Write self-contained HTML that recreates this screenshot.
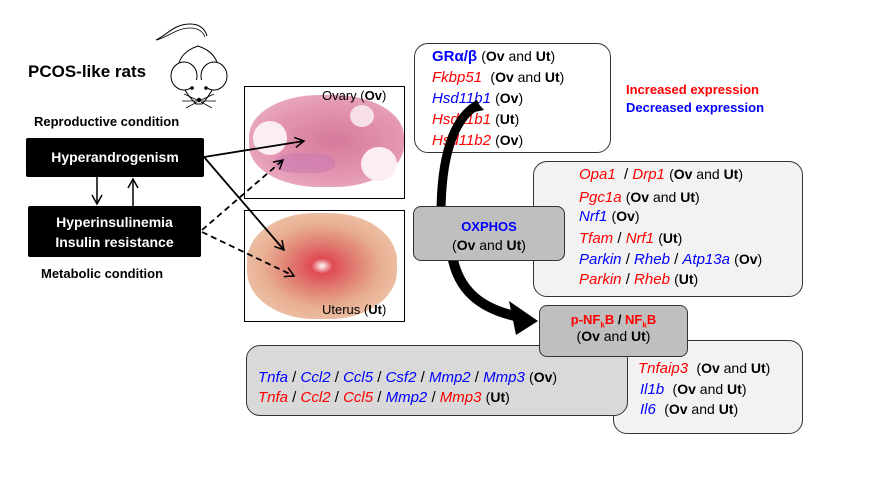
<!DOCTYPE html>
<html><head><meta charset="utf-8"><style>
body{margin:0;width:881px;height:499px;background:#fff;position:relative;overflow:hidden;font-family:"Liberation Sans",Arial,sans-serif}
.a{position:absolute;white-space:nowrap}
.r{color:#f00}.b{color:#00f}.k{color:#000}
i{font-style:italic}
.box{position:absolute;border:1.3px solid #333;border-radius:14px;box-sizing:border-box}
.p{font-size:14px}
.p b{font-weight:bold}
.ln{position:absolute;white-space:nowrap;font-size:15px}
.blk{position:absolute;background:#000;color:#fff;font-weight:bold;font-size:14px;text-align:center;border-radius:2px}
</style></head><body>

<div class="a" style="left:28px;top:62px;font-size:17px;font-weight:bold">PCOS-like rats</div>
<svg class="a" style="left:152px;top:18px" width="90" height="90" viewBox="0 0 90 90">
<path d="M4,22 C15,17 22,6 38,6 C48,6 53,11 55,18" fill="none" stroke="#000" stroke-width="1"/>
<path d="M4,22 C15,20 24,10 38,10 C47,10 51,14 53,19" fill="none" stroke="#000" stroke-width="0.8"/>
<path d="M44,86 C24,66 16,38 46,28 C76,38 68,66 50,86 Z" fill="#fff" stroke="#000" stroke-width="1"/>
<ellipse cx="32" cy="58" rx="13" ry="14" fill="#fff" stroke="#000"/>
<ellipse cx="62" cy="58" rx="13" ry="14" fill="#fff" stroke="#000"/>
<path d="M37,62 C38,74 42,82 47,84 C52,82 56,74 57,62" fill="#fff" stroke="none"/>
<circle cx="40" cy="70" r="1.8"/><circle cx="54" cy="70" r="1.8"/><circle cx="47" cy="82" r="2.2"/>
<path d="M45,82 L32,76 M45,83 L30,83 M45,84 L34,90 M49,82 L62,76 M49,83 L64,83 M49,84 L60,90" stroke="#000" stroke-width="0.8"/>
</svg>

<div class="a" style="left:34px;top:114px;font-size:13px;font-weight:bold">Reproductive condition</div>
<div class="blk" style="left:26px;top:138px;width:178px;height:39px;line-height:39px">Hyperandrogenism</div>
<div class="blk" style="left:28px;top:206px;width:173px;height:51px;line-height:20px;padding-top:6px;box-sizing:border-box">Hyperinsulinemia<br>Insulin resistance</div>
<div class="a" style="left:41px;top:266px;font-size:13px;font-weight:bold">Metabolic condition</div>

<!-- images -->
<div class="a" style="left:244px;top:86px;width:161px;height:113px;border:1px solid #000;box-sizing:border-box;background:#fff;overflow:hidden">
<div class="a" style="left:4px;top:8px;width:155px;height:92px;border-radius:45%;background:radial-gradient(ellipse at 55% 50%,#d67a9c 0%,#e496b2 55%,#eab0c4 85%,#f5dbe5 100%)"></div>
<div class="a" style="left:8px;top:34px;width:34px;height:34px;border-radius:50%;background:#fbeef2"></div>
<div class="a" style="left:116px;top:60px;width:36px;height:34px;border-radius:50%;background:#fbeef2"></div>
<div class="a" style="left:105px;top:18px;width:24px;height:22px;border-radius:50%;background:#f6dfe8"></div>
<div class="a" style="left:30px;top:66px;width:60px;height:20px;border-radius:40%;background:#c978b0;opacity:.55"></div>
</div>
<div class="a" style="left:322px;top:88px;font-size:13px">Ovary (<b>Ov</b>)</div>
<div class="a" style="left:244px;top:210px;width:161px;height:112px;border:1px solid #000;box-sizing:border-box;background:#fff;overflow:hidden">
<div class="a" style="left:2px;top:2px;width:150px;height:106px;border-radius:45%;background:radial-gradient(ellipse at 50% 50%,#fff 0%,#e04a52 10%,#e0776e 28%,#e8ae92 55%,#efc8ad 85%,#f6e1d3 100%)"></div>
</div>
<div class="a" style="left:322px;top:302px;font-size:13px">Uterus (<b>Ut</b>)</div>

<svg class="a" style="left:0;top:0" width="881" height="499">
<defs><marker id="ah" markerWidth="12" markerHeight="12" refX="10" refY="6" orient="auto" markerUnits="userSpaceOnUse"><path d="M1,1 L10,6 L1,11" fill="none" stroke="#000" stroke-width="1.5"/></marker></defs>
<line x1="97" y1="177" x2="97" y2="204" stroke="#000" stroke-width="1.5" marker-end="url(#ah)"/>
<line x1="133" y1="206" x2="133" y2="179" stroke="#000" stroke-width="1.5" marker-end="url(#ah)"/>
<line x1="204" y1="157" x2="304" y2="141" stroke="#000" stroke-width="1.8" marker-end="url(#ah)"/>
<line x1="204" y1="157" x2="284" y2="250" stroke="#000" stroke-width="1.8" marker-end="url(#ah)"/>
<line x1="202" y1="230" x2="283" y2="160" stroke="#000" stroke-width="1.8" stroke-dasharray="6,4" marker-end="url(#ah)"/>
<line x1="202" y1="232" x2="294" y2="276" stroke="#000" stroke-width="1.8" stroke-dasharray="6,4" marker-end="url(#ah)"/>
</svg>

<!-- top box -->
<div class="box" style="left:414px;top:43px;width:197px;height:110px;background:#fff"></div>
<div class="ln" style="left:432px;top:48px"><b class="b">GRα/β</b> <span class="p">(<b>Ov</b> and <b>Ut</b>)</span></div>
<div class="ln" style="left:432px;top:69px"><i class="r">Fkbp51</i> &nbsp;<span class="p">(<b>Ov</b> and <b>Ut</b>)</span></div>
<div class="ln" style="left:432px;top:90px"><i class="b">Hsd11b1</i> <span class="p">(<b>Ov</b>)</span></div>
<div class="ln" style="left:432px;top:111px"><i class="r">Hsd11b1</i> <span class="p">(<b>Ut</b>)</span></div>
<div class="ln" style="left:432px;top:132px"><i class="r">Hsd11b2</i> <span class="p">(<b>Ov</b>)</span></div>

<div class="a" style="left:626px;top:82px;font-size:13px;font-weight:bold;color:#f00">Increased expression</div>
<div class="a" style="left:626px;top:100px;font-size:13px;font-weight:bold;color:#00f">Decreased expression</div>

<!-- right gray box -->
<div class="box" style="left:533px;top:161px;width:270px;height:136px;background:#f2f2f2"></div>
<div class="ln" style="left:579px;top:166px"><i class="r">Opa1</i> &nbsp;/ <i class="r">Drp1</i> <span class="p">(<b>Ov</b> and <b>Ut</b>)</span></div>
<div class="ln" style="left:579px;top:189px"><i class="r">Pgc1a</i> <span class="p">(<b>Ov</b> and <b>Ut</b>)</span></div>
<div class="ln" style="left:579px;top:208px"><i class="b">Nrf1</i> <span class="p">(<b>Ov</b>)</span></div>
<div class="ln" style="left:579px;top:230px"><i class="r">Tfam</i> / <i class="r">Nrf1</i> <span class="p">(<b>Ut</b>)</span></div>
<div class="ln" style="left:579px;top:251px"><i class="b">Parkin</i> / <i class="b">Rheb</i> / <i class="b">Atp13a</i> <span class="p">(<b>Ov</b>)</span></div>
<div class="ln" style="left:579px;top:271px"><i class="r">Parkin</i> / <i class="r">Rheb</i> <span class="p">(<b>Ut</b>)</span></div>

<!-- curved arrow -->
<svg class="a" style="left:0;top:0" width="881" height="499">
<path d="M479,104 C452,118 441,160 441,215" fill="none" stroke="#000" stroke-width="9"/>
<path d="M476,101 L484,110 L470,113 Z" fill="#000"/>
<path d="M452,255 C458,290 480,308 515,316" fill="none" stroke="#000" stroke-width="10"/>
<path d="M509,301 L538,321 L516,335 Z" fill="#000"/>
</svg>

<!-- OXPHOS -->
<div class="box" style="left:413px;top:206px;width:152px;height:55px;background:#bfbfbf;border-radius:8px;text-align:center;padding-top:10px;line-height:19px">
<div style="font-size:13px;font-weight:bold;color:#00f">OXPHOS</div>
<div class="p">(<b>Ov</b> and <b>Ut</b>)</div></div>

<!-- bottom right box -->
<div class="box" style="left:613px;top:340px;width:190px;height:94px;background:#f2f2f2"></div>
<div class="ln" style="left:638px;top:360px"><i class="r">Tnfaip3</i> &nbsp;<span class="p">(<b>Ov</b> and <b>Ut</b>)</span></div>
<div class="ln" style="left:640px;top:381px"><i class="b">Il1b</i> &nbsp;<span class="p">(<b>Ov</b> and <b>Ut</b>)</span></div>
<div class="ln" style="left:640px;top:401px"><i class="b">Il6</i> &nbsp;<span class="p">(<b>Ov</b> and <b>Ut</b>)</span></div>

<!-- bottom left box -->
<div class="box" style="left:246px;top:345px;width:382px;height:71px;background:#d9d9d9"></div>
<div class="ln" style="left:258px;top:369px"><i class="b">Tnfa</i> / <i class="b">Ccl2</i> / <i class="b">Ccl5</i> / <i class="b">Csf2</i> / <i class="b">Mmp2</i> / <i class="b">Mmp3</i> <span class="p">(<b>Ov</b>)</span></div>
<div class="ln" style="left:258px;top:389px"><i class="r">Tnfa</i> / <i class="r">Ccl2</i> / <i class="r">Ccl5</i> / <i class="b">Mmp2</i> / <i class="r">Mmp3</i> <span class="p">(<b>Ut</b>)</span></div>

<!-- NFkB -->
<div class="box" style="left:539px;top:305px;width:149px;height:52px;background:#bfbfbf;border-radius:8px;text-align:center;padding-top:5px;line-height:17px">
<div style="font-size:13px;font-weight:bold"><span class="r">p-NF<sub style="font-size:8px;line-height:0">k</sub>B</span> / <span class="r">NF<sub style="font-size:8px;line-height:0">k</sub>B</span></div>
<div class="p">(<b>Ov</b> and <b>Ut</b>)</div></div>

</body></html>
